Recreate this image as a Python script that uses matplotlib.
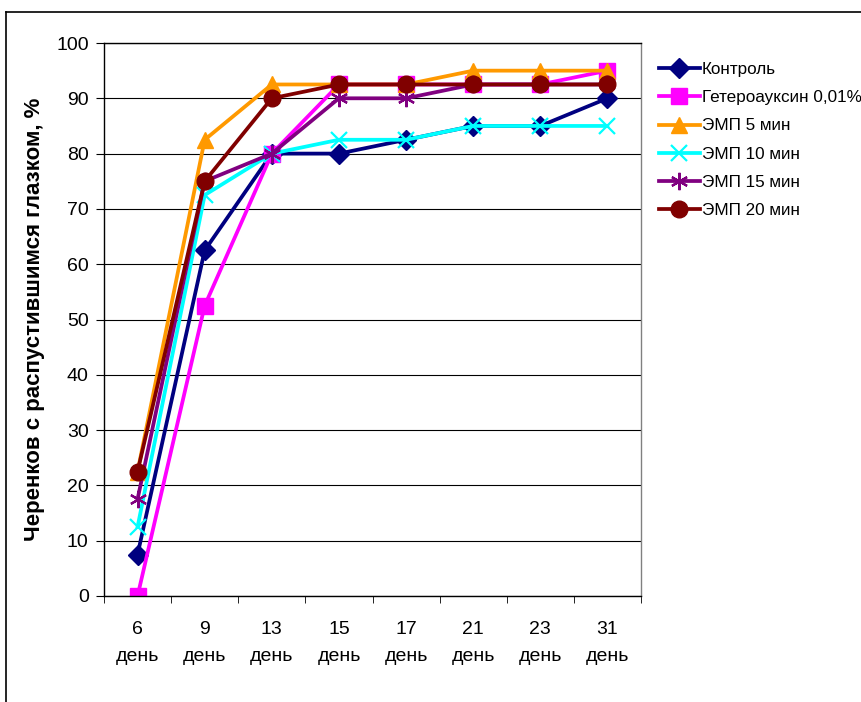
import numpy as np
import matplotlib.pyplot as plt
from matplotlib.lines import Line2D

plt.rcParams['font.family'] = ['Liberation Sans', 'DejaVu Sans']

days = ['6', '9', '13', '15', '17', '21', '23', '31']
kontrol = [7.5, 62.5, 80, 80, 82.5, 85, 85, 90]
getero = [0, 52.5, 80, 92.5, 92.5, 92.5, 92.5, 95]
emp5 = [22.5, 82.5, 92.5, 92.5, 92.5, 95, 95, 95]
emp10 = [12.5, 72.5, 80, 82.5, 82.5, 85, 85, 85]
emp15 = [17.5, 75, 80, 90, 90, 92.5, 92.5, 92.5]
emp20 = [22.5, 75, 90, 92.5, 92.5, 92.5, 92.5, 92.5]

series = [
    ('Контроль', kontrol, '#000080', 'D', 10.5),
    ('Гетероауксин 0,01%', getero, '#FF00FF', 's', 11),
    ('ЭМП 5 мин', emp5, '#FF9900', '^', 12),
    ('ЭМП 10 мин', emp10, '#00FFFF', 'x', 11),
    ('ЭМП 15 мин', emp15, '#800080', (6, 2, 0), 12.5),
    ('ЭМП 20 мин', emp20, '#800000', 'o', 12),
]

fig = plt.figure(figsize=(8.62, 7.02), dpi=100)
ax = fig.add_axes([104 / 862, 106 / 702, 537 / 862, 553 / 702])

x = np.arange(len(days))
for name, vals, col, mk, ms in series:
    ax.plot(x, vals, color=col, lw=2.7, marker=mk, markersize=ms,
            markeredgewidth=1.6 if mk in ('x', (6, 2, 0)) else 1,
            markeredgecolor=col, markerfacecolor=col, label=name)

ax.set_xlim(-0.5, len(days) - 0.5)
ax.set_ylim(0, 100)
ax.set_yticks(np.arange(0, 101, 10))
ax.yaxis.grid(True, color='black', lw=0.8)
ax.set_axisbelow(True)
ax.set_xticks(x)
ax.set_xticklabels([d + '\nдень' for d in days], linespacing=1.75)
ax.set_xticks(np.arange(-0.5, len(days)), minor=True)
ax.tick_params(axis='x', which='major', length=0, pad=18, labelsize=14)
ax.tick_params(axis='x', which='minor', length=5, direction='out')
ax.tick_params(axis='y', length=6, direction='out', labelsize=14, pad=5)
for s in ax.spines.values():
    s.set_linewidth(1)
ax.spines['right'].set_color('#808080')

ax.set_ylabel('Черенков с распустившимся глазком, %', fontsize=16,
              fontweight='bold', labelpad=8)

fig.legend(loc='upper left', bbox_to_anchor=(652 / 862, 647 / 702),
           frameon=False, fontsize=12.3, handlelength=2.4, labelspacing=0.78,
           handletextpad=0.1, borderaxespad=0)

# outer chart frame (cropped at right and bottom)
fig.add_artist(Line2D([6 / 862, 1], [690 / 702, 690 / 702], color='black', lw=1.2))
fig.add_artist(Line2D([6 / 862, 6 / 862], [0, 690 / 702], color='black', lw=1.2))

fig.savefig('out.png', dpi=100)
